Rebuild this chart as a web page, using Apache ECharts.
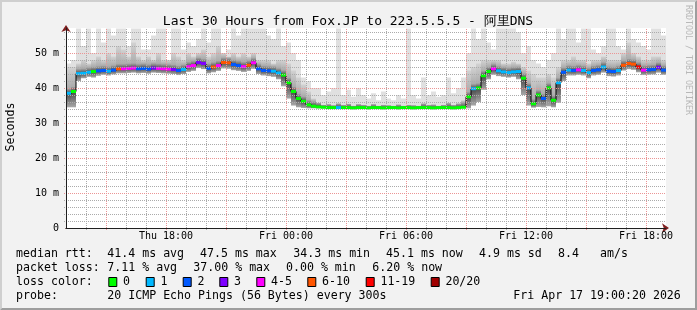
<!DOCTYPE html>
<html><head><meta charset="utf-8">
<script src="https://cdn.jsdelivr.net/npm/echarts@6/dist/echarts.min.js"></script>
<style>html,body{margin:0;padding:0;background:#F2F2F2}#c{width:697px;height:310px}</style>
</head><body><div id="c"></div>
<script>
// ---- data (hours since Thu 13:00, 15-minute steps) ----
const STEP = 0.25;
const medianMs = [38.5,39.0,44.1,44.2,44.5,44.7,44.9,45.0,44.8,45.1,
 45.5,45.5,45.6,45.7,45.5,45.6,45.4,45.7,45.6,45.5,
 45.4,45.3,45.0,45.3,46.1,46.4,47.3,47.0,45.6,46.0,
 46.4,47.3,47.2,46.7,46.4,46.1,46.5,47.2,45.5,45.0,
 44.9,44.8,44.3,43.7,41.5,39.0,37.0,36.2,35.2,34.8,
 34.6,34.5,34.4,34.4,34.4,34.4,34.4,34.3,34.4,34.4,
 34.3,34.4,34.4,34.3,34.4,34.4,34.3,34.4,34.4,34.3,
 34.4,34.4,34.4,34.3,34.4,34.4,34.4,34.3,34.4,34.5,
 37.5,39.8,40.0,43.5,44.7,45.5,44.9,44.6,44.4,44.6,
 44.7,42.8,40.0,35.5,38.0,37.0,40.0,36.5,41.5,44.5,
 45.1,45.0,45.2,45.0,44.4,45.0,45.2,46.0,44.8,44.7,
 45.0,46.5,47.0,46.8,46.0,45.1,45.2,45.3,45.9,45.1];
const lossIdx = [1,0,1,1,1,0,2,2,1,2,
 5,4,4,4,2,2,2,3,4,4,
 4,3,2,1,4,4,3,3,2,5,
 4,5,5,2,2,4,5,4,2,2,
 2,1,1,0,0,0,0,0,0,0,
 0,0,0,0,1,0,0,0,0,0,
 0,0,0,0,0,0,0,0,0,0,
 0,0,0,0,0,0,0,0,0,0,
 0,1,0,0,0,4,1,1,1,1,
 1,0,1,0,0,2,0,0,1,2,
 1,2,4,1,1,2,2,1,2,2,
 1,5,5,5,6,4,2,2,3,2];
const smokeLo = [34.5,34.5,42.0,42.8,43.2,43.0,43.5,43.8,43.6,43.9,
 44.2,44.2,44.3,44.4,44.2,44.3,44.1,44.4,44.3,44.2,
 44.1,44.0,43.7,44.0,44.6,44.9,45.7,45.4,44.2,44.5,
 44.9,45.6,45.5,45.1,44.9,44.6,44.9,45.5,44.0,43.6,
 43.4,43.2,42.5,40.5,37.0,35.0,34.5,34.3,34.2,34.2,
 34.2,34.2,34.2,34.2,34.2,34.2,34.2,34.2,34.2,34.2,
 34.2,34.2,34.2,34.2,34.2,34.2,34.2,34.2,34.2,34.2,
 34.2,34.2,34.2,34.2,34.2,34.2,34.2,34.2,34.2,34.2,
 34.2,35.0,36.0,39.5,42.5,43.8,43.4,43.2,43.0,43.2,
 42.5,38.0,35.0,34.4,34.6,34.5,34.8,34.5,35.8,42.0,
 43.6,43.6,43.8,43.6,42.8,43.6,43.8,44.4,43.4,43.3,
 43.6,45.0,45.4,45.2,44.5,43.7,43.8,43.9,44.4,43.8];
const smokeMid = [46,46,47,48,47,48,49,48,50,49,
 52,51,49,53,49,48,49,48,50,48,
 48,50,49,48,50,49,50,51,49,50,
 52,50,49,50,49,50,49,50,48,48,
 48,47,48,48,47,45,43,41,39,37,
 35.8,35.2,35.4,35.1,35.6,35.2,35.5,35.0,35.4,35.2,
 35.0,35.4,35.0,35.2,35.1,35.0,35.3,35.0,35.2,35.1,
 35.0,35.6,35.2,35.3,35.0,35.2,35.7,35.2,35.6,36.5,
 45,46,47,48,48,48,48,47,47,47.5,
 47,46,45,44,43,43,44,43,46,48,
 48,49,48,48,47,48,48,49,48,48,
 48,50,53,50,49,48,48,49,49,48];
const smokeHi = [47,48,57,52,57,50,57,53,57,55,
 57,57,52,57,57,51,51,55,57,57,
 48,57,57,51,53,52,54,57,53,57,
 57,50,51,57,55,57,57,57,57,57,
 55,54,57,52,53,50,48,43,42,40,
 40,38,39,40,57,38,39.5,37.5,40,38,
 37,38.5,36.5,39,37,36.5,38,37,57,38,
 37,43,38,39,37.5,38,43,38.5,40,43,
 50,57,54,57,53,51,57,57,57,57,
 56,50,52,48,47,46,48,50,57,54,
 57,57,53,57,57,51,50,52,57,57,
 52,51,57,54,53,52,51,57,57,55];
const lossColors = ['#00FF00','#00B8FF','#0059FF','#7E00FF','#FF00FF','#FF5500','#FF0000','#A10000'];
const lossLabels = ['0','1','2','3','4-5','6-10','11-19','20/20'];
const xTickHours = [5,11,17,23,29];
const xTickLabels = ['Thu 18:00','Fri 00:00','Fri 06:00','Fri 12:00','Fri 18:00'];
const majorHours = [2,5,8,11,14,17,20,23,26,29];
const minorHours = [1,3,4,6,7,9,10,12,13,15,16,18,19,21,22,24,25,27,28];
const majorMs = [10,20,30,40,50];
const minorMs = [2,4,6,8,12,14,16,18,22,24,26,28,32,34,36,38,42,44,46,48,52,54,56];
const titleText = 'Last 30 Hours from Fox.JP to 223.5.5.5 - 阿里DNS';
const rowMedian = [['median rtt:',16],['41.4 ms avg',107.3],['47.5 ms max',200],['34.3 ms min',293.3],['45.1 ms now',386],['4.9 ms sd',479],['8.4',558],['am/s',600]];
const rowLoss = [['packet loss:',16],['7.11 % avg',107.3],['37.00 % max',193.3],['0.00 % min',286],['6.20 % now',372.3]];
const lossBoxX = [108.3,145.7,182.7,219.3,256.3,307.3,365.7,430.7];
const rowProbe = [['probe:',16],['20 ICMP Echo Pings (56 Bytes) every 300s',107.3],['Fri Apr 17 19:00:20 2026',513.3]];

// ---- build ----
const FONT = '"DejaVu Sans Mono", monospace';
const smokeData = medianMs.map((m,i)=>[i*STEP, smokeLo[i], smokeMid[i], smokeHi[i], m]);
const medLine = medianMs.map((m,i)=>[i*STEP+STEP/2, m]);
const medMarks = medianMs.map((m,i)=>[i*STEP, m, lossIdx[i]]);
const YMAX = 400/7;
const minorC = '#ABABAB';
const majorC = '#EB9595';

const g = [];
g.push({type:'polygon', z:0, shape:{points:[[0,0],[697,0],[695,2],[2,2],[2,308],[0,310]]}, style:{fill:'#CFCFCF'}});
g.push({type:'polygon', z:0, shape:{points:[[697,0],[697,310],[0,310],[2,308],[695,308],[695,2]]}, style:{fill:'#9E9E9E'}});
function txt(t,x,y,size,extra){ g.push(Object.assign({type:'text', x:x, y:y, z:10, style:{text:t, font:size+'px '+FONT, fill:'#000', align:'left', verticalAlign:'middle'}}, extra||{})); }
txt(titleText, 348, 22, 13, {style:{text:titleText, font:'13px '+FONT, fill:'#000', align:'center', verticalAlign:'middle'}});
txt('Seconds', 11, 127, 11.6, {rotation:Math.PI/2, style:{text:'Seconds', font:'11.6px '+FONT, fill:'#000', align:'center', verticalAlign:'middle'}});
txt('RRDTOOL / TOBI OETIKER', 688.5, 60, 8.3, {rotation:-Math.PI/2, style:{text:'RRDTOOL / TOBI OETIKER', font:'8.3px '+FONT, fill:'#B8B8B8', align:'center', verticalAlign:'middle'}});
rowMedian.forEach(r=>txt(r[0], r[1], 254.3, 11.6));
rowLoss.forEach(r=>txt(r[0], r[1], 267.7, 11.6));
txt('loss color:', 16, 281.7, 11.6);
lossBoxX.forEach((bx,i)=>{
  g.push({type:'rect', z:10, shape:{x:bx+0.5, y:277.5, width:8, height:9}, style:{fill:lossColors[i], stroke:'#000', lineWidth:1}});
  txt(lossLabels[i], bx+14.7, 281.7, 11.6);
});
rowProbe.forEach(r=>txt(r[0], r[1], 296, 11.6));

function vGrid(color){
  return (params, api)=>{
    const cs=params.coordSys;
    const p=api.coord([api.value(0), 0]);
    const x=Math.round(p[0])+0.5;
    return {type:'line', shape:{x1:x, y1:cs.y+cs.height+2, x2:x, y2:cs.y}, style:{stroke:color, lineWidth:1, lineDash:[1,1]}};
  };
}
function hGrid(color){
  return (params, api)=>{
    const cs=params.coordSys;
    const p=api.coord([0, api.value(1)]);
    const y=Math.round(p[1])+0.5;
    return {type:'line', shape:{x1:cs.x-2, y1:y, x2:cs.x+cs.width, y2:y}, style:{stroke:color, lineWidth:1, lineDash:[1,1]}};
  };
}

const chart = echarts.init(document.getElementById('c'), null, {renderer:'canvas'});
chart.setOption({
  backgroundColor:'#F2F2F2',
  animation:false,
  grid:{left:66, top:28, width:600, height:200, show:true, backgroundColor:'#FFFFFF', borderWidth:0},
  xAxis:[
    {type:'value', min:0, max:30, interval:1, z:8,
     axisLine:{show:true, lineStyle:{color:'#1F1F1F', width:1}},
     axisTick:{show:false},
     splitLine:{show:false},
     axisLabel:{show:true, margin:3, fontSize:10, fontFamily:FONT, color:'#000', hideOverlap:false, showMinLabel:true, showMaxLabel:true,
       formatter:v=>{const k=xTickHours.indexOf(Math.round(v*1000)/1000); return k>=0?xTickLabels[k]:'';}}},
    {type:'value', min:0, max:30, position:'bottom', z:7,
     axisLine:{show:true, symbol:['none','arrow'], symbolSize:[7,7], symbolOffset:[0,3], lineStyle:{color:'#801F1F', width:1}},
     axisTick:{show:false}, axisLabel:{show:false}, splitLine:{show:false}}
  ],
  yAxis:[
    {type:'value', min:0, max:YMAX, interval:10, position:'left', z:8,
     axisLine:{show:true, lineStyle:{color:'#1F1F1F', width:1}},
     axisTick:{show:false},
     splitLine:{show:false},
     axisLabel:{show:true, margin:7, fontSize:10, fontFamily:FONT, color:'#000', showMaxLabel:false,
       formatter:v=> v===0?'0':(Math.round(v)+' m')}},
    {type:'value', min:0, max:YMAX, position:'left', z:7,
     axisLine:{show:true, symbol:['none','arrow'], symbolSize:[7,7], symbolOffset:[0,3], lineStyle:{color:'#801F1F', width:1}},
     axisTick:{show:false}, axisLabel:{show:false}, splitLine:{show:false}}
  ],
  graphic:g,
  series:[
    {type:'custom', name:'smoke', xAxisIndex:0, yAxisIndex:0, z:1, clip:true, silent:true,
     data:smokeData, encode:{x:0, y:[1,2,3]},
     renderItem:(params, api)=>{
       const x0=api.value(0);
       const pHi=api.coord([x0, api.value(3)]);
       const pLo=api.coord([x0+STEP, api.value(1)]);
       const pMid=api.coord([x0, api.value(2)]);
       const pMed=api.coord([x0, api.value(4)]);
       const w=pLo[0]-pHi[0];
       const dh=pLo[1]-pMid[1];
       const cl=v=>Math.max(0,Math.min(1,v));
       const off = dh>0 ? cl((pMed[1]-pMid[1])/dh) : 0.5;
       const offA = dh>0 ? cl((pMed[1]-5-pMid[1])/dh) : 0.3;
       return {type:'group', children:[
         {type:'rect', shape:{x:pHi[0], y:pHi[1], width:w, height:pLo[1]-pHi[1]}, style:{fill:'#E0E0E0'}},
         {type:'rect', shape:{x:pHi[0], y:pMid[1], width:w, height:dh},
          style:{fill:new echarts.graphic.LinearGradient(0,0,0,1,[{offset:0,color:'#D2D2D2'},{offset:offA,color:'#ACACAC'},{offset:off,color:'#484848'},{offset:1,color:'#A8A8A8'}])}}
       ]};
     }},
    {type:'line', name:'median', xAxisIndex:0, yAxisIndex:0, z:2, data:medLine, step:'middle', symbol:'none',
     lineStyle:{color:'#000', width:1}, silent:true},
    {type:'custom', name:'loss', xAxisIndex:0, yAxisIndex:0, z:3, clip:true, silent:true,
     data:medMarks, encode:{x:0, y:1},
     renderItem:(params, api)=>{
       const x0=api.value(0);
       const p=api.coord([x0, api.value(1)]);
       const q=api.coord([x0+STEP, api.value(1)]);
       return {type:'rect', shape:{x:p[0], y:p[1]-1.5, width:q[0]-p[0], height:3}, style:{fill:lossColors[api.value(2)]}};
     }},
    {type:'custom', name:'minorV', xAxisIndex:0, yAxisIndex:0, z:5, silent:true,
     data:minorHours.map(h=>[h,0]), encode:{x:0,y:1}, renderItem:vGrid(minorC)},
    {type:'custom', name:'minorH', xAxisIndex:0, yAxisIndex:0, z:5, silent:true,
     data:minorMs.map(v=>[0,v]), encode:{x:0,y:1}, renderItem:hGrid(minorC)},
    {type:'custom', name:'majorV', xAxisIndex:0, yAxisIndex:0, z:6, silent:true,
     data:majorHours.map(h=>[h,0]), encode:{x:0,y:1}, renderItem:vGrid(majorC)},
    {type:'custom', name:'majorH', xAxisIndex:0, yAxisIndex:0, z:6, silent:true,
     data:majorMs.map(v=>[0,v]), encode:{x:0,y:1}, renderItem:hGrid(majorC)}
  ]
});
</script></body></html>
